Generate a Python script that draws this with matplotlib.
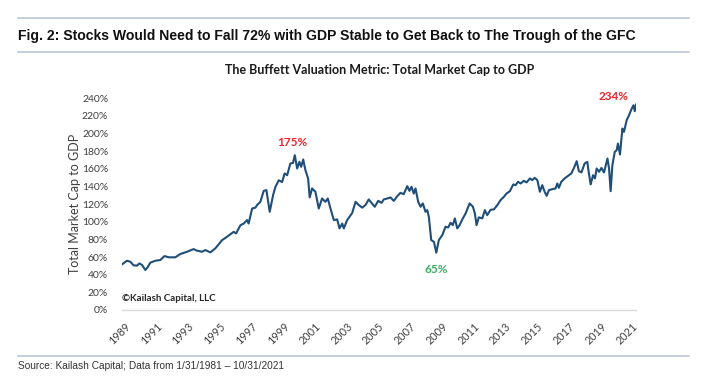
import matplotlib
matplotlib.use('Agg')
from matplotlib import pyplot as plt

# decimal year and market cap / GDP (%)
jahre = [1989.49, 1989.80, 1990.01, 1990.22, 1990.43, 1990.58, 1990.75, 1990.96, 1991.10, 1991.27,
         1991.59, 1991.90, 1992.17, 1992.43, 1992.85, 1993.16, 1993.59, 1994.00, 1994.22, 1994.53,
         1994.74, 1995.06, 1995.37, 1995.80, 1996.11, 1996.53, 1996.68, 1996.95, 1997.16, 1997.37,
         1997.47, 1997.69, 1997.90, 1998.00, 1998.21, 1998.42, 1998.59, 1998.80, 1999.01, 1999.16,
         1999.37, 1999.58, 1999.74, 1999.90, 2000.10, 2000.27, 2000.38, 2000.53, 2000.67, 2000.78,
         2000.91, 2001.05, 2001.22, 2001.32, 2001.47, 2001.68, 2001.89, 2002.10, 2002.31, 2002.46,
         2002.63, 2002.84, 2003.05, 2003.20, 2003.37, 2003.47, 2003.68, 2004.00, 2004.21, 2004.41,
         2004.63, 2004.84, 2005.04, 2005.21, 2005.42, 2005.64, 2005.85, 2005.99, 2006.21, 2006.41,
         2006.62, 2006.84, 2007.04, 2007.25, 2007.47, 2007.61, 2007.74, 2007.88, 2007.99, 2008.16,
         2008.31, 2008.45, 2008.62, 2008.73, 2008.83, 2008.98, 2009.15, 2009.30, 2009.46, 2009.68,
         2009.88, 2010.05, 2010.20, 2010.34, 2010.47, 2010.62, 2010.77, 2010.94, 2011.15, 2011.40,
         2011.61, 2011.73, 2011.84, 2011.98, 2012.20, 2012.36, 2012.51, 2012.72, 2012.93, 2013.15,
         2013.35, 2013.56, 2013.73, 2013.94, 2014.15, 2014.30, 2014.45, 2014.62, 2014.82, 2014.99,
         2015.20, 2015.35, 2015.50, 2015.67, 2015.83, 2015.98, 2016.13, 2016.26, 2016.40, 2016.62,
         2016.82, 2016.93, 2017.03, 2017.18, 2017.39, 2017.60, 2017.81, 2017.98, 2018.15, 2018.29,
         2018.45, 2018.65, 2018.82, 2018.92, 2019.03, 2019.18, 2019.30, 2019.41, 2019.56, 2019.71,
         2019.87, 2020.09, 2020.19, 2020.29, 2020.40, 2020.55, 2020.67, 2020.75, 2020.88, 2021.03,
         2021.13, 2021.30, 2021.45, 2021.60, 2021.73, 2021.81, 2021.89]
werte = [51.7, 55.8, 54.7, 50.6, 50.2, 52.8, 51.0, 45.3, 48.3, 53.6,
         55.8, 56.6, 61.1, 59.7, 59.7, 63.4, 66.0, 69.0, 67.2, 66.0,
         67.9, 65.3, 69.8, 79.2, 83.0, 88.6, 86.8, 96.0, 98.0, 101.9,
         98.0, 115.0, 116.0, 118.9, 122.6, 135.0, 135.9, 111.3, 130.0, 139.6,
         147.0, 145.0, 154.8, 152.8, 166.0, 166.8, 175.5, 160.4, 168.0, 162.3,
         170.6, 158.5, 149.0, 127.6, 137.8, 134.0, 115.0, 126.4, 122.6, 126.4,
         115.0, 101.9, 102.7, 92.5, 98.0, 92.5, 101.9, 110.0, 122.6, 119.0,
         116.0, 119.0, 125.3, 121.5, 117.0, 123.7, 121.5, 125.3, 126.4, 127.6,
         123.7, 129.0, 132.8, 131.3, 140.4, 135.0, 139.6, 132.0, 137.8, 122.6,
         117.0, 120.8, 111.3, 113.2, 105.6, 79.2, 77.3, 64.9, 79.2, 84.9,
         94.3, 93.6, 98.8, 96.2, 103.8, 92.5, 96.2, 102.7, 109.5, 120.8,
         117.0, 109.5, 96.2, 105.0, 103.8, 113.2, 107.5, 113.6, 114.0, 118.9,
         124.5, 128.3, 132.0, 134.7, 142.3, 141.5, 145.3, 143.4, 146.4, 144.6,
         149.1, 147.2, 149.8, 147.2, 134.0, 141.5, 134.0, 129.4, 135.9, 137.0,
         137.8, 143.4, 138.5, 145.3, 149.1, 152.0, 154.8, 161.1, 168.7, 157.4,
         155.9, 166.1, 167.9, 154.8, 142.3, 152.8, 149.1, 160.4, 156.6, 161.1,
         155.9, 171.7, 160.4, 134.7, 164.2, 179.2, 181.1, 188.7, 176.3, 205.7,
         201.9, 215.1, 220.8, 227.6, 232.1, 225.3, 232.9]

jahr_labels = [str(j) for j in range(1989, 2022, 2)]
y_ticks = list(range(0, 241, 20))

header = 'Fig. 2: Stocks Would Need to Fall 72% with GDP Stable to Get Back to The Trough of the GFC'
titel = 'The Buffett Valuation Metric: Total Market Cap to GDP'
quelle = 'Source: Kailash Capital; Data from 1/31/1981 \u2013 10/31/2021'

linie_farbe = '#1f4e79'
rahmen_farbe = '#b8c8d8'
text_grau = '#404040'

fig = plt.figure(figsize=(7.07, 3.78), dpi=100)

# header, chart title and source
fig.text(0.026, 0.905, header, fontsize=10.1, fontweight='bold', family='Liberation Sans',
         color='#111111', va='center', ha='left')
fig.add_artist(plt.Line2D([0.026, 0.975], [0.952, 0.952], color=rahmen_farbe, lw=1.2))
fig.add_artist(plt.Line2D([0.026, 0.975], [0.862, 0.862], color=rahmen_farbe, lw=1.2))
fig.add_artist(plt.Line2D([0.026, 0.975], [0.057, 0.057], color=rahmen_farbe, lw=1.2))
fig.text(0.026, 0.033, quelle, fontsize=7.3, family='Liberation Sans', color='#333333',
         va='center', ha='left')
fig.text(0.537, 0.815, titel, fontsize=9, fontweight='bold', family='Lato',
         color='#1a1a1a', va='center', ha='center')

ax = fig.add_axes([0.1726, 0.18, 0.7270, 0.56])
ax.plot(jahre, werte, color=linie_farbe, lw=1.5)

ax.set_xlim(1989.49, 2021.89)
ax.set_ylim(0, 240)
ax.set_yticks(y_ticks)
ax.set_yticklabels([f'{v}%' for v in y_ticks], fontsize=7.5, family='Lato', color=text_grau)
ax.set_xticks([int(j) + 0.66 for j in jahr_labels])
ax.set_xticklabels(jahr_labels, rotation=45, ha='right', rotation_mode='anchor',
                   fontsize=7.8, family='Lato', color=text_grau)
ax.tick_params(axis='both', length=0)
ax.tick_params(axis='y', pad=10)
ax.tick_params(axis='x', pad=8)
for s in ['top', 'right', 'left']:
    ax.spines[s].set_visible(False)
ax.spines['bottom'].set_color('#d9d9d9')
ax.spines['bottom'].set_linewidth(1.0)

ax.set_ylabel('Total Market Cap to GDP', fontsize=9, family='Lato', color=text_grau, labelpad=1)

# annotations
ax.annotate('175%', xy=(2000.38, 175.5), xytext=(-2, 5), textcoords='offset points',
            ha='center', va='bottom', fontsize=8.5, fontweight='bold', family='Lato', color='#e8262b')
ax.annotate('234%', xy=(2020.45, 232.9), xytext=(0, 2), textcoords='offset points',
            ha='center', va='bottom', fontsize=8.5, fontweight='bold', family='Lato', color='#e8262b')
ax.annotate('65%', xy=(2009.30, 64.9), xytext=(0, -8), textcoords='offset points',
            ha='center', va='top', fontsize=8.5, fontweight='bold', family='Lato', color='#3aab5f')
ax.text(0.0, 0.035, '\u00a9Kailash Capital, LLC', transform=ax.transAxes, fontsize=7,
        fontweight='bold', family='Lato', color='#262626', ha='left', va='bottom')

fig.savefig('out.png', dpi=100)
plt.close()
